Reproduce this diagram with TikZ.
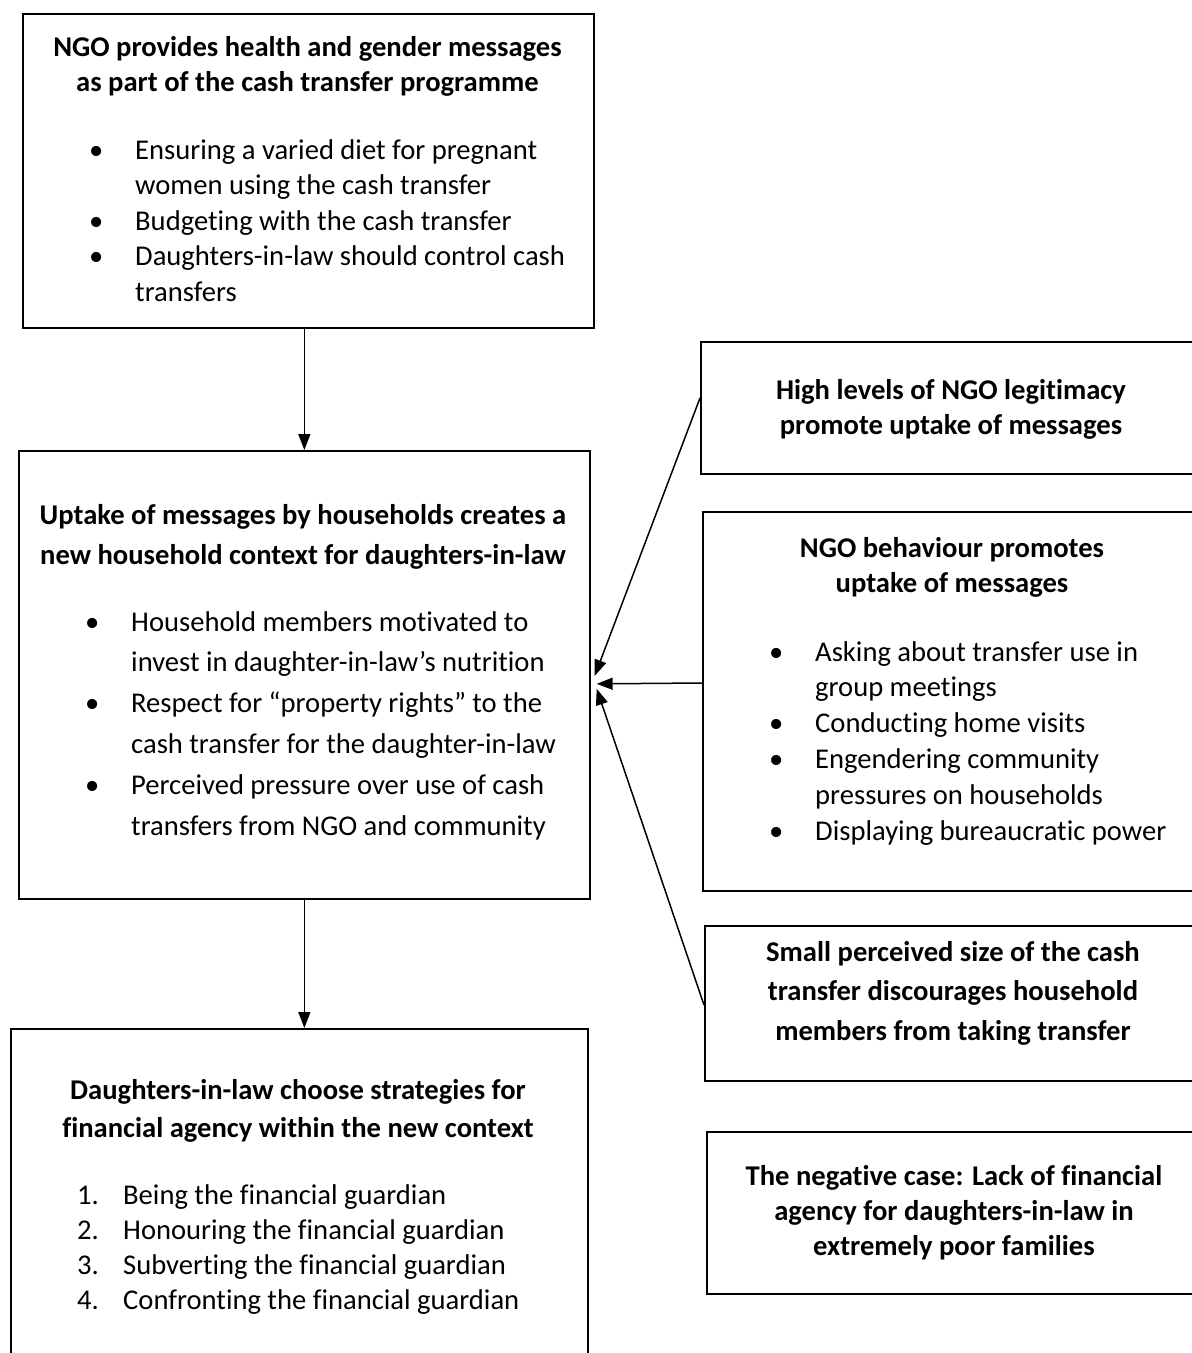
\documentclass[tikz,border=0pt]{standalone}
\usepackage{fontspec}
\setmainfont[Ligatures={NoCommon,NoContextual}]{Carlito}
\usetikzlibrary{arrows.meta}
\tikzset{
  box/.style={draw, line width=1.7pt, rectangle, inner sep=0pt, anchor=north west},
  arr/.style={line width=1.5pt, -{Triangle[length=16pt,width=12pt]}},
  hd/.style={inner sep=0pt, anchor=base, font=\fontsize{28.6}{#1}\selectfont\bfseries},
  lst/.style={inner sep=0pt, anchor=base west, font=\fontsize{28.6}{#1}\selectfont},
}
\begin{document}
\begin{tikzpicture}[x=1pt,y=-1pt]
\useasboundingbox (0,0) rectangle (1192,1353);
\clip (0,0) rectangle (1192,1353);
% boxes
\node[box, minimum width=571pt, minimum height=314pt] (b1) at (22,13) {};
\node[box, minimum width=571pt, minimum height=448pt] (b2) at (18,450) {};
\node[box, minimum width=577pt, minimum height=400pt] (b3) at (10,1028) {};
\node[box, minimum width=520pt, minimum height=132pt] (bA) at (700,341) {};
\node[box, minimum width=520pt, minimum height=379pt] (bB) at (702,511) {};
\node[box, minimum width=520pt, minimum height=155pt] (bC) at (704,925) {};
\node[box, minimum width=520pt, minimum height=162pt] (bD) at (706,1131) {};
% box 1
\node[hd=35pt] (t1) at (307.5,56) {\begin{tabular}[t]{@{}c@{}}NGO provides health and gender messages\\as part of the cash transfer programme\end{tabular}};
\node[lst=35.5pt] (l1) at (89,159) {\begin{tabular}[t]{@{}p{46pt}@{}l@{}}
\textbullet & Ensuring a varied diet for pregnant\\
 & women using the cash transfer\\
\textbullet & Budgeting with the cash transfer\\
\textbullet & Daughters-in-law should control cash\\
 & transfers\end{tabular}};
% box 2
\node[hd=40pt] (t2) at (303,524) {\begin{tabular}[t]{@{}c@{}}Uptake of messages by households creates a\\new household context for daughters-in-law\end{tabular}};
\node[lst=40.8pt] (l2) at (85,631) {\begin{tabular}[t]{@{}p{46pt}@{}l@{}}
\textbullet & Household members motivated to\\
 & invest in daughter-in-law’s nutrition\\
\textbullet & Respect for “property rights” to the\\
 & cash transfer for the daughter-in-law\\
\textbullet & Perceived pressure over use of cash\\
 & transfers from NGO and community\end{tabular}};
% box 3
\node[hd=38pt] (t3) at (298,1099) {\begin{tabular}[t]{@{}c@{}}Daughters-in-law choose strategies for\\financial agency within the new context\end{tabular}};
\node[lst=35pt] (l3) at (77,1204) {\begin{tabular}[t]{@{}p{46pt}@{}l@{}}
1. & Being the financial guardian\\
2. & Honouring the financial guardian\\
3. & Subverting the financial guardian\\
4. & Confronting the financial guardian\end{tabular}};
% box A
\node[hd=35pt] (tA) at (951,399) {\begin{tabular}[t]{@{}c@{}}High levels of NGO legitimacy\\promote uptake of messages\end{tabular}};
% box B
\node[hd=35pt] (tB) at (952,557) {\begin{tabular}[t]{@{}c@{}}NGO behaviour promotes\\uptake of messages\end{tabular}};
\node[lst=35.8pt] (lB) at (769,661) {\begin{tabular}[t]{@{}p{46pt}@{}l@{}}
\textbullet & Asking about transfer use in\\
 & group meetings\\
\textbullet & Conducting home visits\\
\textbullet & Engendering community\\
 & pressures on households\\
\textbullet & Displaying bureaucratic power\end{tabular}};
% box C
\node[hd=39.5pt] (tC) at (953,961) {\begin{tabular}[t]{@{}c@{}}Small perceived size of the cash\\transfer discourages household\\members from taking transfer\end{tabular}};
% box D
\node[hd=35pt] (tD) at (954,1185) {\begin{tabular}[t]{@{}c@{}}The negative case: Lack of financial\\agency for daughters-in-law in\\extremely poor families\end{tabular}};
% connectors
\draw[arr] (b2.north |- b1.south) -- (b2.north);
\draw[arr] (b2.south) -- (b2.south |- b3.north);
\draw[arr] ([yshift=-57pt]bA.north west) -- ([xshift=4pt,yshift=-1pt]b2.east);
\draw[arr] ([yshift=-172pt]bB.north west) -- ([xshift=6pt,yshift=-9pt]b2.east);
\draw[arr] ([yshift=-80pt]bC.north west) -- ([xshift=6pt,yshift=-14pt]b2.east);
\end{tikzpicture}
\end{document}
